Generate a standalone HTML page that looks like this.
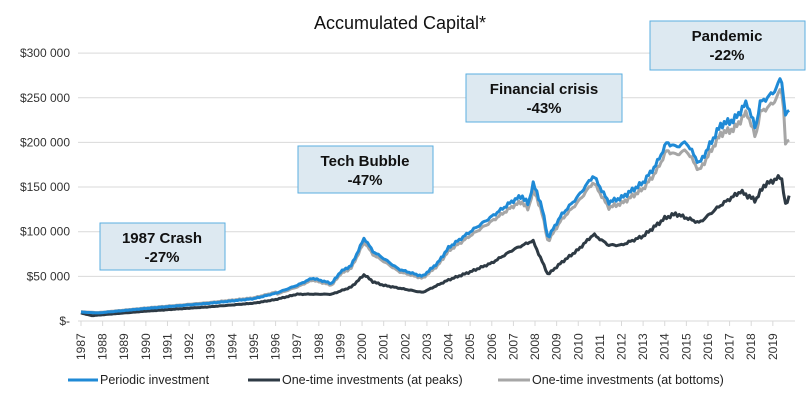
<!DOCTYPE html>
<html><head><meta charset="utf-8"><style>
body{margin:0;background:#fff;width:809px;height:402px;overflow:hidden;font-family:"Liberation Sans",sans-serif}
</style></head><body>
<svg id="s" width="809" height="402" xmlns="http://www.w3.org/2000/svg" font-family="Liberation Sans, sans-serif">
<text x="400" y="29" font-size="18" text-anchor="middle" fill="#111">Accumulated Capital*</text>
<g id="grid" stroke="#d9d9d9" stroke-width="1"></g>
<g id="ylab" font-size="12" fill="#333" text-anchor="end"></g>
<g id="xlab" font-size="12" fill="#333"></g>
<g id="lines" fill="none" stroke-linejoin="round"></g>
<g font-size="15" font-weight="bold" text-anchor="middle" fill="#111">
<rect x="100" y="223" width="125" height="47" fill="#dde9f1" stroke="#5aaee0"/>
<text x="162" y="243">1987 Crash</text><text x="162" y="262">-27%</text>
<rect x="298" y="146" width="135" height="47" fill="#dde9f1" stroke="#5aaee0"/>
<text x="365" y="166">Tech Bubble</text><text x="365" y="185">-47%</text>
<rect x="466" y="74" width="156" height="48" fill="#dde9f1" stroke="#5aaee0"/>
<text x="544" y="94">Financial crisis</text><text x="544" y="113">-43%</text>
<rect x="650" y="21" width="155" height="49" fill="#dde9f1" stroke="#5aaee0"/>
<text x="727" y="41">Pandemic</text><text x="727" y="60">-22%</text>
</g>
<g font-size="12.5" fill="#222">
<line x1="68" y1="380" x2="98" y2="380" stroke="#1f8ad6" stroke-width="3"/><text x="100" y="384">Periodic investment</text>
<line x1="248" y1="380" x2="280" y2="380" stroke="#2e3a44" stroke-width="3"/><text x="282" y="384">One-time investments (at peaks)</text>
<line x1="498" y1="380" x2="530" y2="380" stroke="#a6a6a6" stroke-width="3"/><text x="532" y="384">One-time investments (at bottoms)</text>
</g>
</svg>
<script>
const ns="http://www.w3.org/2000/svg";
function el(p,t,a,txt){const e=document.createElementNS(ns,t);for(const k in a)e.setAttribute(k,a[k]);if(txt)e.textContent=txt;document.getElementById(p).appendChild(e);return e;}
const Y=v=>321-v*0.000893, X=y=>81+(y-1987)*21.62;
const labs=["$-","$50 000","$100 000","$150 000","$200 000","$250 000","$300 000"];
for(let i=0;i<7;i++){const y=Y(i*50000);el("grid","line",{x1:78,x2:795,y1:y,y2:y});el("ylab","text",{x:70,y:y+4},labs[i]);}
for(let yr=1987;yr<=2019;yr++){const x=X(yr);el("grid","line",{x1:x,x2:x,y1:321,y2:326});el("xlab","text",{transform:`translate(${x+4},360) rotate(-90)`},String(yr));}
const blue=[[1987,10],[1987.8,9],[1990,14],[1993,20],[1995,25],[1996,31],[1997,40],[1997.7,48],[1998.6,42],[1999,55],[1999.5,62],[2000.1,93],[2000.5,78],[2001,70],[2001.7,58],[2002.8,50],[2003.5,65],[2004,82],[2005,100],[2006,117],[2007,135],[2007.4,140],[2007.7,130],[2007.9,155],[2008.3,130],[2008.6,93],[2009.2,118],[2010,140],[2010.7,163],[2011.4,133],[2012,138],[2013,155],[2013.6,175],[2014.1,200],[2014.5,195],[2015,200],[2015.6,176],[2016.6,220],[2017.2,225],[2017.8,245],[2018.2,215],[2018.4,244],[2019,255],[2019.4,272],[2019.6,228],[2019.75,236]];
const dark=[[1987,9],[1987.5,6],[1990,11],[1993,16],[1995,20],[1996,24],[1997,30],[1998.6,30],[1999.5,38],[2000.1,52],[2000.5,44],[2001,40],[2002.8,32],[2004,46],[2005,55],[2006,65],[2007,80],[2007.9,90],[2008.6,52],[2009.2,65],[2010,80],[2010.7,97],[2011.4,85],[2012,85],[2013,95],[2014,115],[2014.5,120],[2015.6,110],[2016.6,130],[2017.5,145],[2018.2,135],[2018.6,152],[2019.4,162],[2019.6,127],[2019.75,140]];
function interp(k,t){for(let i=1;i<k.length;i++)if(t<=k[i][0]){const a=k[i-1],b=k[i];return a[1]+(b[1]-a[1])*(t-a[0])/(b[0]-a[0]);}return k[k.length-1][1];}
function pts(k,f,seed){let s="";for(let t=1987;t<=2019.75;t+=1/12){let v=interp(k,t);v*=f(t);v*=1+0.012*Math.sin(t*37+seed)+0.008*Math.sin(t*91+seed);s+=X(t).toFixed(1)+","+Y(v*1000).toFixed(1)+" ";}return s;}
el("lines","polyline",{points:pts(blue,t=>(t<1996?1.04:0.955)*(t>2019.5?0.9:1),1),stroke:"#a6a6a6","stroke-width":3});
el("lines","polyline",{points:pts(dark,()=>1,2),stroke:"#2e3a44","stroke-width":3});
el("lines","polyline",{points:pts(blue,()=>1,1),stroke:"#1f8ad6","stroke-width":3});
</script>
</body></html>
